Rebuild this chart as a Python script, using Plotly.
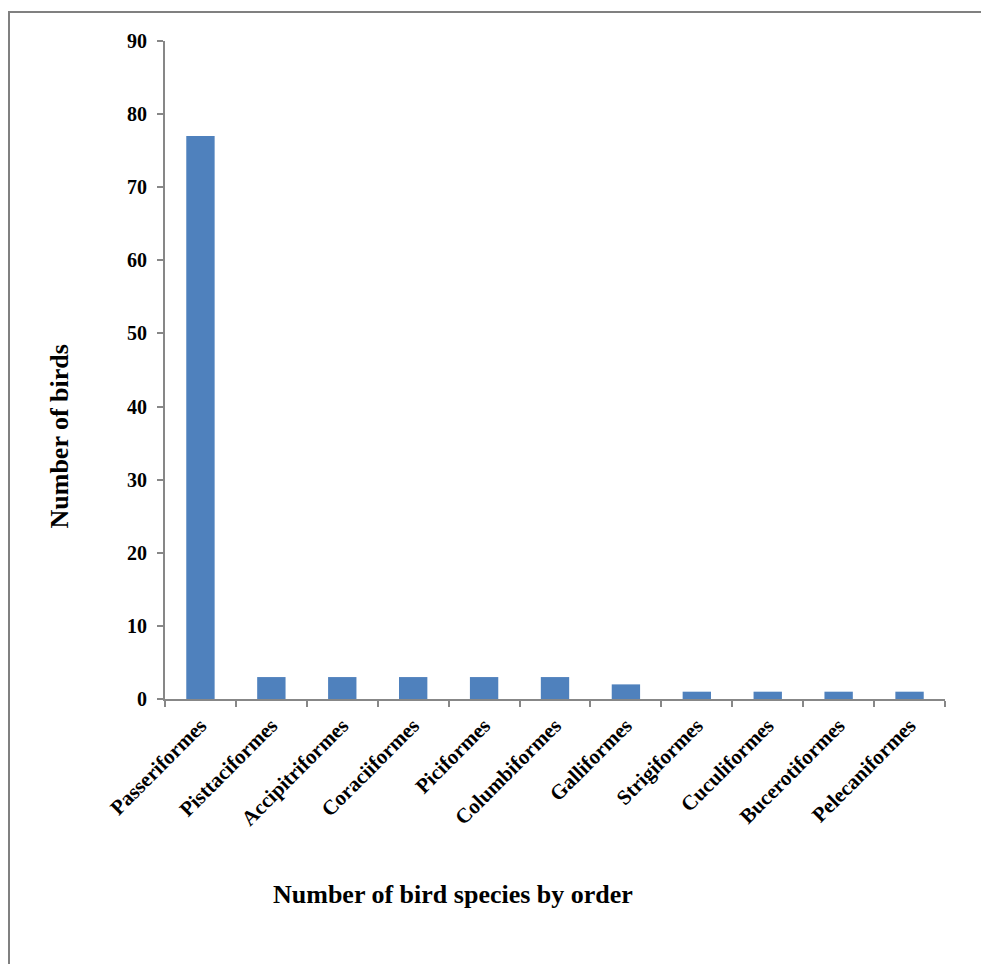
import plotly.graph_objects as go

orders = ["Passeriformes", "Pisttaciformes", "Accipitriformes", "Coraciiformes",
          "Piciformes", "Columbiformes", "Galliformes", "Strigiformes",
          "Cuculiformes", "Bucerotiformes", "Pelecaniformes"]
counts = [77, 3, 3, 3, 3, 3, 2, 1, 1, 1, 1]
y_ticks = [0, 10, 20, 30, 40, 50, 60, 70, 80, 90]

FONT = "Liberation Serif"
AXIS_GREY = "#878787"

fig = go.Figure(go.Bar(
    x=orders, y=counts,
    marker=dict(color="#4F81BD", line=dict(width=0)),
))

W, H = 981, 964
L, R, T, B = 165, 36, 41, 265

fig.update_layout(
    width=W, height=H,
    margin=dict(l=L, r=R, t=T, b=B),
    paper_bgcolor="white", plot_bgcolor="white",
    bargap=0.6,
    showlegend=False,
    font=dict(family=FONT, color="black"),
    xaxis=dict(
        showline=True, linecolor=AXIS_GREY, linewidth=2,
        ticks="outside", ticklen=6, tickcolor=AXIS_GREY, tickwidth=2,
        tickson="boundaries",
        tickangle=-45,
        ticklabelstandoff=4,
        tickfont=dict(family=FONT, size=21, color="black", weight="bold"),
        showgrid=False, zeroline=False,
    ),
    yaxis=dict(
        range=[0, 90], tickvals=y_ticks,
        showline=True, linecolor=AXIS_GREY, linewidth=2,
        ticks="outside", ticklen=6, tickcolor=AXIS_GREY, tickwidth=2,
        ticklabelstandoff=6,
        tickfont=dict(family=FONT, size=20, color="black", weight="bold"),
        showgrid=False, zeroline=False,
    ),
    annotations=[
        dict(text="<b>Number of birds</b>", xref="paper", yref="paper",
             x=(43 - L) / (W - L - R), y=(H - B - 437) / (H - T - B),
             textangle=-90, showarrow=False,
             font=dict(family=FONT, size=26, color="black")),
        dict(text="<b>Number of bird species by order</b>", xref="paper", yref="paper",
             x=(453 - L) / (W - L - R), y=(H - B - 911) / (H - T - B),
             showarrow=False,
             font=dict(family=FONT, size=26, color="black")),
    ],
    shapes=[
        dict(type="rect", xref="paper", yref="paper",
             x0=(9 - L) / (W - L - R), x1=(W + 20 - L) / (W - L - R),
             y0=(H - B - (H + 20)) / (H - T - B), y1=(H - B - 12) / (H - T - B),
             line=dict(color="#808080", width=2), fillcolor="rgba(0,0,0,0)",
             layer="below"),
    ],
)

fig.write_html("out.html")
